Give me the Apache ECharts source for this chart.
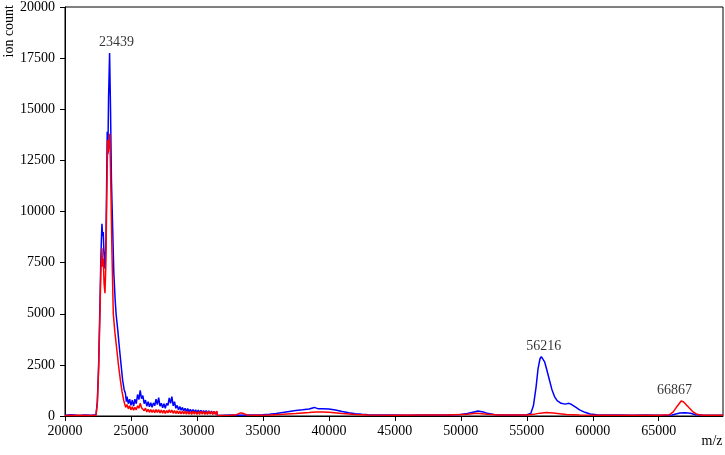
<!DOCTYPE html>
<html>
<head>
<meta charset="utf-8">
<script src="https://cdn.jsdelivr.net/npm/echarts@6/dist/echarts.min.js"></script>
<style>
  html, body { margin: 0; padding: 0; background: #fff; }
  #main { width: 725px; height: 455px; }
</style>
</head>
<body>
<div id="main"></div>
<script>
// tick labels
var xTicks = [20000, 25000, 30000, 35000, 40000, 45000, 50000, 55000, 60000, 65000];
var yTicks = [0, 2500, 5000, 7500, 10000, 12500, 15000, 17500, 20000];

// blue spectrum [m/z, ion count]
var blueSpectrum = [
  [20000, 40], [20500, 60], [21000, 30], [21500, 50], [22000, 40], [22350, 60],
  [22450, 700], [22550, 2500], [22650, 5500], [22720, 7800], [22800, 9400], [22850, 8800],
  [22900, 9000], [22950, 8000], [23030, 7200], [23100, 8500], [23150, 11000], [23200, 13900],
  [23250, 12800], [23300, 15500], [23380, 17750], [23450, 15000], [23520, 11500],
  [23600, 9500], [23700, 7000], [23800, 5700], [23870, 5000], [24000, 4200], [24120, 3350],
  [24250, 2500], [24370, 1740], [24480, 1300], [24580, 1100],
  [24650, 700], [24700, 950], [24800, 600], [24900, 820], [25000, 520],
  [25100, 780], [25200, 480], [25300, 820], [25400, 600], [25500, 1050], [25600, 800],
  [25700, 1250], [25800, 850], [25900, 1000], [26000, 600], [26100, 780], [26200, 480],
  [26300, 700], [26400, 450], [26500, 650], [26600, 420], [26700, 640], [26800, 500],
  [26900, 820], [27000, 560], [27100, 900], [27200, 480], [27300, 620], [27400, 400],
  [27500, 600], [27600, 380], [27700, 620], [27800, 520], [27900, 880], [28000, 620],
  [28100, 950], [28200, 500], [28300, 700], [28400, 380], [28500, 520], [28600, 300],
  [28700, 460], [28800, 280], [28900, 420], [29000, 250], [29100, 380], [29200, 220],
  [29300, 360], [29400, 200], [29500, 330], [29600, 180], [29700, 320], [29800, 170],
  [29900, 300], [30000, 160], [30100, 290], [30200, 150], [30300, 280], [30400, 140],
  [30500, 270], [30600, 130], [30700, 260], [30800, 120], [30900, 250], [31000, 110],
  [31100, 240], [31200, 100], [31300, 230], [31400, 90], [31500, 220], [31550, 30],
  [31600, 40], [32500, 50], [33000, 40], [34000, 50], [35000, 60], [35500, 80], [36000, 120],
  [36500, 170], [37000, 220], [37500, 270], [38000, 300], [38500, 340], [38900, 420],
  [39200, 350], [39500, 360], [40000, 340], [40500, 290], [41000, 220], [41500, 160],
  [42000, 110], [42500, 80], [43000, 60], [44000, 50], [45000, 50], [46000, 40], [47000, 50],
  [48000, 50], [49000, 50], [50000, 70], [50500, 120], [51000, 200], [51300, 240], [51700, 200],
  [52000, 130], [52500, 70], [53000, 50], [54000, 50], [55000, 60], [55300, 120], [55500, 500],
  [55700, 1400], [55850, 2300], [56000, 2800], [56100, 2900], [56216, 2850], [56350, 2650],
  [56500, 2300], [56700, 1800], [56900, 1300], [57100, 950], [57300, 750], [57600, 620],
  [57900, 580], [58200, 620], [58400, 560], [58700, 430], [59000, 300], [59400, 180],
  [59800, 100], [60300, 60], [61000, 50], [62000, 50], [63000, 40], [64000, 50], [65000, 40],
  [66000, 50], [66300, 100], [66600, 150], [67000, 160], [67400, 130], [67800, 60],
  [68500, 40], [69000, 40], [69870, 40]
];

// red spectrum [m/z, ion count]
var redSpectrum = [
  [20000, 30], [21000, 40], [22000, 30], [22350, 40],
  [22450, 600], [22550, 2300], [22650, 5000], [22720, 7200], [22800, 8200], [22850, 7300],
  [22900, 7700], [22960, 6500], [23030, 6000], [23100, 7500], [23160, 10500], [23230, 13500],
  [23280, 12900], [23330, 13300], [23400, 13800], [23480, 11000], [23560, 8000],
  [23660, 5000], [23780, 4100], [23910, 3350], [24050, 2500], [24200, 1740], [24320, 1200],
  [24450, 760],
  [24500, 650], [24600, 420], [24700, 560], [24800, 350], [24900, 500],
  [25000, 300], [25100, 450], [25200, 280], [25300, 420], [25400, 300], [25500, 500],
  [25600, 380], [25700, 620], [25800, 400], [25900, 480], [26000, 260], [26100, 380],
  [26200, 200], [26300, 330], [26400, 180], [26500, 320], [26600, 170], [26700, 300],
  [26800, 160], [26900, 320], [27000, 170], [27100, 310], [27200, 150], [27300, 290],
  [27400, 140], [27500, 280], [27600, 130], [27700, 270], [27800, 150], [27900, 300],
  [28000, 160], [28100, 290], [28200, 130], [28300, 260], [28400, 120], [28500, 250],
  [28600, 110], [28700, 240], [28800, 100], [28900, 240], [29000, 100], [29100, 230],
  [29200, 90], [29300, 230], [29400, 90], [29500, 220], [29600, 80], [29700, 230],
  [29800, 90], [29900, 220], [30000, 80], [30100, 220], [30200, 80], [30300, 230],
  [30400, 90], [30500, 220], [30600, 80], [30700, 220], [30800, 80], [30900, 230],
  [31000, 90], [31100, 220], [31200, 80], [31300, 230], [31400, 90], [31500, 240], [31560, 30],
  [31700, 40], [32500, 40], [33000, 60], [33300, 150], [33500, 130], [33800, 50], [34500, 40],
  [35500, 50], [36500, 80], [37500, 120], [38500, 170], [39000, 200], [39500, 190],
  [40000, 180], [41000, 120], [42000, 70], [43000, 50], [45000, 40], [47000, 50], [49000, 50],
  [50500, 80], [51200, 140], [52000, 80], [53000, 50], [55000, 50], [55500, 80], [56000, 140],
  [56500, 170], [57000, 150], [57500, 110], [58000, 70], [59000, 50], [61000, 40], [63000, 40],
  [65000, 40], [65800, 60], [66100, 200], [66400, 480], [66700, 730], [66867, 700],
  [67000, 620], [67300, 400], [67600, 200], [67900, 80], [68300, 40], [69000, 40], [69870, 40]
];

// peak labels [m/z, ion count at peak]
var peakLabels = [[23439, 17750], [56216, 2850], [66867, 730]];

var font = 'Liberation Serif';
var labelShift = [6, 1, -9];   // px, horizontal nudge of each peak label

function plain(v) { return String(v); }

var chart = echarts.init(document.getElementById('main'));
chart.setOption({
  animation: false,
  backgroundColor: '#fff',
  grid: {
    left: 65, right: 2, top: 6, bottom: 39,
    show: true, borderColor: '#000', borderWidth: 1
  },
  xAxis: {
    type: 'value',
    min: 20000,
    max: 69870,
    interval: 5000,
    axisLine: { lineStyle: { color: '#000', width: 1 } },
    axisTick: { show: true, length: 5, customValues: xTicks, lineStyle: { color: '#000' } },
    axisLabel: { customValues: xTicks, formatter: plain, color: '#000', fontFamily: font, fontSize: 14, margin: 8 },
    splitLine: { show: false }
  },
  yAxis: {
    type: 'value',
    min: 0,
    max: 20000,
    interval: 2500,
    axisLine: { show: true, lineStyle: { color: '#000', width: 1 } },
    axisTick: { show: true, length: 5, customValues: yTicks, lineStyle: { color: '#000' } },
    axisLabel: { customValues: yTicks, formatter: plain, color: '#000', fontFamily: font, fontSize: 14, margin: 10 },
    splitLine: { show: false }
  },
  graphic: [
    {
      type: 'text', x: 9, y: 5, rotation: Math.PI / 2,
      style: { text: 'ion count', fontFamily: font, fontSize: 14, fill: '#000',
               textAlign: 'right', textVerticalAlign: 'middle' }
    },
    {
      type: 'text', x: 712, y: 441,
      style: { text: 'm/z', fontFamily: font, fontSize: 14, fill: '#000',
               textAlign: 'center', textVerticalAlign: 'middle' }
    }
  ],
  series: [
    {
      name: 'blue', type: 'line', data: blueSpectrum,
      showSymbol: false, lineStyle: { color: '#0000ff', width: 1.5 }, itemStyle: { color: '#0000ff' },
      z: 2
    },
    {
      name: 'red', type: 'line', data: redSpectrum,
      showSymbol: false, lineStyle: { color: '#ff0000', width: 1.5 }, itemStyle: { color: '#ff0000' },
      z: 3
    },
    {
      name: 'peaks', type: 'scatter', symbolSize: 0, z: 4, silent: true,
      data: peakLabels.map(function (p, i) {
        return {
          value: p,
          label: {
            show: true, position: 'top', distance: 4, offset: [labelShift[i], 0],
            formatter: String(p[0]), color: '#000', fontFamily: font, fontSize: 14
          }
        };
      })
    }
  ]
});
</script>
</body>
</html>
